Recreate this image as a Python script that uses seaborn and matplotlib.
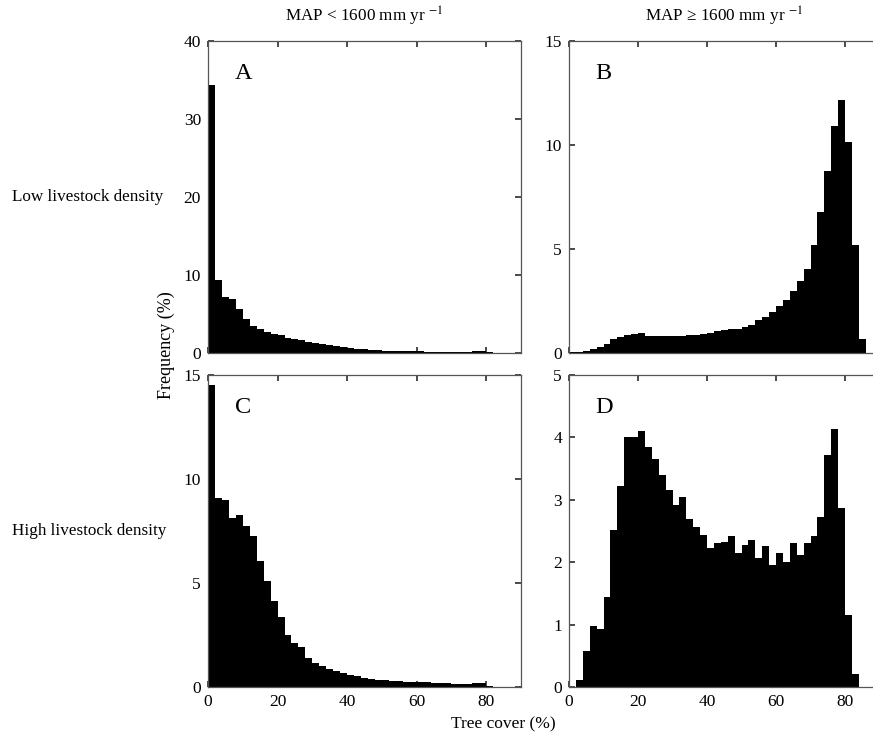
import matplotlib
matplotlib.use('Agg')
import matplotlib.pyplot as plt
import seaborn as sns
import pandas as pd
import numpy as np

sns.set_theme(style='ticks')
plt.rcParams.update({
    'font.family': ['Liberation Serif', 'DejaVu Serif'],
    'mathtext.fontset': 'stix',
    'font.size': 12,
    'text.color': 'black',
    'axes.labelcolor': 'black',
    'axes.edgecolor': '#555555',
    'axes.linewidth': 0.9,
    'xtick.direction': 'in',
    'ytick.direction': 'in',
    'xtick.color': '#333333',
    'ytick.color': '#333333',
    'xtick.labelcolor': 'black',
    'ytick.labelcolor': 'black',
    'xtick.major.size': 4,
    'ytick.major.size': 4,
})

# bins of 2 % tree cover, starting at 0
bin_width = 2

# A: MAP < 1600, low livestock density
freq_a = [34.3, 9.3, 7.2, 6.9, 5.7, 4.3, 3.5, 3.05, 2.75, 2.5, 2.25, 1.95, 1.82, 1.65, 1.45, 1.25,
          1.1, 0.97, 0.84, 0.72, 0.6, 0.52, 0.45, 0.4, 0.35, 0.3, 0.28, 0.25, 0.22, 0.2,
          0.2, 0.18, 0.17, 0.15, 0.15, 0.13, 0.12, 0.12, 0.3, 0.3, 0.1, 0.02]
# B: MAP >= 1600, low livestock density
freq_b = [0.03, 0.07, 0.12, 0.2, 0.28, 0.45, 0.65, 0.78, 0.86, 0.9, 0.95, 0.82, 0.83, 0.84,
          0.83, 0.82, 0.84, 0.85, 0.88, 0.93, 0.98, 1.05, 1.12, 1.15, 1.17, 1.25, 1.36, 1.6,
          1.72, 1.96, 2.25, 2.55, 2.97, 3.45, 4.05, 5.2, 6.77, 8.73, 10.9, 12.15, 10.16, 5.2, 0.67]
# C: MAP < 1600, high livestock density
freq_c = [14.5, 9.07, 8.99, 8.14, 8.27, 7.75, 7.27, 6.05, 5.1, 4.14, 3.37, 2.52, 2.1, 1.9,
          1.38, 1.16, 1.0, 0.88, 0.77, 0.67, 0.56, 0.53, 0.45, 0.4, 0.35, 0.32, 0.3, 0.27,
          0.26, 0.25, 0.24, 0.22, 0.19, 0.18, 0.17, 0.16, 0.15, 0.14, 0.19, 0.2, 0.06, 0.0]
# D: MAP >= 1600, high livestock density
freq_d = [0.0, 0.11, 0.58, 0.98, 0.93, 1.45, 2.52, 3.22, 4.0, 4.0, 4.11, 3.84, 3.65, 3.39,
          3.16, 2.91, 3.05, 2.7, 2.57, 2.44, 2.23, 2.3, 2.33, 2.42, 2.14, 2.28, 2.36, 2.07,
          2.26, 1.95, 2.14, 2.0, 2.3, 2.12, 2.3, 2.42, 2.73, 3.72, 4.13, 2.87, 1.16, 0.21, 0.0]

panel_letters = ['A', 'B', 'C', 'D']
y_max = [40, 15, 15, 5]
y_ticks = [[0, 10, 20, 30, 40], [0, 5, 10, 15], [0, 5, 10, 15], [0, 1, 2, 3, 4, 5]]
x_ticks = [0, 20, 40, 60, 80]
col_titles = ['MAP < 1600 mm yr $^{-1}$', 'MAP \u2265 1600 mm yr $^{-1}$']
row_titles = ['Low livestock density', 'High livestock density']

fig = plt.figure(figsize=(8.73, 7.4), dpi=100)
W, H = 873, 740
# axes boxes in pixels: left, top, width, height
boxes = [(208, 41, 313, 312), (569, 41, 310.5, 312),
         (208, 375, 313, 312), (569, 375, 310.5, 312)]

for i, (freq, box) in enumerate(zip([freq_a, freq_b, freq_c, freq_d], boxes)):
    l, t, w, h = box
    ax = fig.add_axes([l / W, 1 - (t + h) / H, w / W, h / H])
    n = len(freq)
    edges = list(np.arange(0, (n + 1) * bin_width, bin_width))
    d = pd.DataFrame({'cover': np.arange(n) * bin_width + bin_width / 2, 'freq': freq})
    sns.histplot(data=d, x='cover', weights='freq', bins=edges, element='step', fill=True,
                 color='black', alpha=1, linewidth=0, ax=ax)
    ax.set_xlim(0, 90)
    ax.set_ylim(0, y_max[i])
    ax.set_yticks(y_ticks[i])
    ax.set_xticks(x_ticks)
    ax.tick_params(top=True, right=True, labelsize=12.5, pad=5)
    if i < 2:
        ax.set_xticklabels([])
    ax.set_xlabel('')
    ax.set_ylabel('')
    for s in ax.spines.values():
        s.set_visible(True)
        s.set_zorder(5)
    ax.text(0.085, 0.895, panel_letters[i], transform=ax.transAxes, fontsize=17.5,
            va='center', ha='left')

fig.text(364.5 / W, 1 - 16 / H, col_titles[0], ha='center', va='center', fontsize=12.3)
fig.text(724 / W, 1 - 16 / H, col_titles[1], ha='center', va='center', fontsize=12.3)
fig.text(12 / W, 1 - 197 / H, row_titles[0], ha='left', va='center', fontsize=12.3)
fig.text(12 / W, 1 - 531 / H, row_titles[1], ha='left', va='center', fontsize=12.3)
fig.text(166 / W, 1 - 345 / H, 'Frequency (%)', rotation=90, ha='center', va='center', fontsize=13)
fig.text(503 / W, 1 - 724 / H, 'Tree cover (%)', ha='center', va='center', fontsize=12.5)

fig.savefig('out.png', dpi=100, facecolor='white')
